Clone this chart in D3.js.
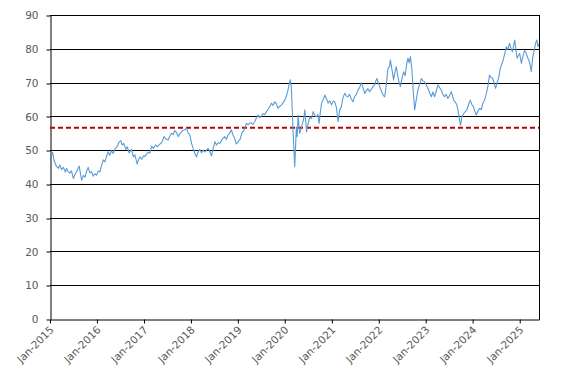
<!DOCTYPE html>
<html><head><meta charset="utf-8">
<script src="https://cdnjs.cloudflare.com/ajax/libs/d3/7.8.5/d3.min.js"></script>
<style>body{margin:0;background:#fff}svg{display:block}text{font-family:"DejaVu Sans",Verdana,sans-serif;fill:#595959}</style>
</head><body><svg id="c" width="567" height="382"></svg>
<script>
const dates = ["2015-01-02","2015-01-14","2015-01-22","2015-02-01","2015-02-16","2015-03-06","2015-03-19","2015-03-31","2015-04-14","2015-05-01","2015-05-09","2015-05-23","2015-06-05","2015-06-17","2015-07-01","2015-07-14","2015-07-29","2015-08-16","2015-08-26","2015-09-04","2015-09-18","2015-09-30","2015-10-13","2015-10-25","2015-11-07","2015-11-20","2015-12-03","2015-12-16","2015-12-29",
"2016-01-11","2016-01-24","2016-02-06","2016-02-19","2016-03-03","2016-03-16","2016-03-28","2016-04-10","2016-04-23","2016-05-06","2016-05-19","2016-06-06","2016-06-19","2016-07-04","2016-07-16","2016-07-28","2016-08-12","2016-08-24","2016-09-07","2016-09-26","2016-10-10","2016-10-22","2016-11-09","2016-11-20","2016-11-30","2016-12-15","2016-12-29",
"2017-01-08","2017-01-21","2017-02-04","2017-02-16","2017-03-01","2017-03-15","2017-03-31","2017-04-15","2017-05-05","2017-05-20","2017-06-05","2017-06-20","2017-07-08","2017-07-21","2017-08-03","2017-08-16","2017-08-29","2017-09-11","2017-09-24","2017-10-07","2017-10-20","2017-11-01","2017-11-14","2017-11-28","2017-12-10","2017-12-23",
"2018-01-06","2018-01-18","2018-01-31","2018-02-14","2018-02-26","2018-03-11","2018-03-24","2018-04-06","2018-04-19","2018-05-02","2018-05-15","2018-05-28","2018-06-10","2018-06-22","2018-07-06","2018-07-19","2018-07-31","2018-08-13","2018-08-26","2018-09-08","2018-09-21","2018-10-04","2018-10-17","2018-10-30","2018-11-12","2018-11-24","2018-12-07","2018-12-20",
"2019-01-03","2019-01-16","2019-01-28","2019-02-06","2019-02-20","2019-03-08","2019-03-22","2019-04-03","2019-04-16","2019-04-28","2019-05-12","2019-05-25","2019-06-07","2019-06-20","2019-07-03","2019-07-15","2019-07-28","2019-08-11","2019-08-23","2019-09-05","2019-09-18","2019-10-01","2019-10-14","2019-10-27","2019-11-09","2019-11-23","2019-12-06","2019-12-18",
"2020-01-01","2020-01-14","2020-01-26","2020-02-05","2020-02-13","2020-02-20","2020-02-28","2020-03-05","2020-03-10","2020-03-18","2020-03-24","2020-03-31","2020-04-07","2020-04-13","2020-04-20","2020-04-26","2020-05-08","2020-05-18","2020-05-28","2020-06-05","2020-06-18","2020-07-01","2020-07-14","2020-07-27","2020-08-09","2020-08-22","2020-09-04","2020-09-14","2020-09-24","2020-10-03","2020-10-13","2020-10-25","2020-11-07","2020-11-20","2020-12-03","2020-12-16","2020-12-29",
"2021-01-11","2021-01-24","2021-02-06","2021-02-18","2021-03-03","2021-03-16","2021-03-28","2021-04-11","2021-04-24","2021-05-06","2021-05-19","2021-06-01","2021-06-14","2021-06-27","2021-07-11","2021-07-23","2021-08-05","2021-08-18","2021-08-31","2021-09-13","2021-09-26","2021-10-08","2021-10-22","2021-11-04","2021-11-17","2021-11-30","2021-12-09","2021-12-18","2021-12-29",
"2022-01-08","2022-01-21","2022-02-03","2022-02-16","2022-03-01","2022-03-13","2022-03-26","2022-04-01","2022-04-13","2022-04-26","2022-05-06","2022-05-17","2022-05-30","2022-06-08","2022-06-18","2022-06-30","2022-07-13","2022-07-25","2022-08-06","2022-08-16","2022-08-25","2022-09-04","2022-09-16","2022-09-25","2022-10-07","2022-10-20","2022-11-01","2022-11-15","2022-11-28","2022-12-10","2022-12-23",
"2023-01-06","2023-01-18","2023-01-31","2023-02-14","2023-02-26","2023-03-11","2023-03-24","2023-04-06","2023-04-19","2023-05-02","2023-05-14","2023-05-27","2023-06-09","2023-06-22","2023-07-06","2023-07-19","2023-07-29","2023-08-06","2023-08-19","2023-08-31","2023-09-11","2023-09-21","2023-09-29","2023-10-08","2023-10-17","2023-10-30","2023-11-17","2023-11-30","2023-12-13","2023-12-26",
"2024-01-08","2024-01-18","2024-01-29","2024-02-11","2024-02-24","2024-03-08","2024-03-20","2024-04-02","2024-04-15","2024-04-28","2024-05-11","2024-05-24","2024-06-06","2024-06-17","2024-06-27","2024-07-10","2024-07-23","2024-08-03","2024-08-15","2024-08-29","2024-09-08","2024-09-19","2024-10-01","2024-10-14","2024-10-26","2024-11-05","2024-11-15","2024-11-23","2024-12-02","2024-12-11","2024-12-22",
"2025-01-01","2025-01-14","2025-01-26","2025-02-08","2025-02-22","2025-03-06","2025-03-19","2025-04-01","2025-04-07","2025-04-13","2025-04-24","2025-05-04","2025-05-14","2025-05-23","2025-05-30"];
const values = [49.5,48.5,49.3,47,45.5,44.6,45.6,44.2,44.9,43.5,44.6,43.6,43.2,43.9,41.6,42.8,43.8,45.3,43,41.1,42.5,42,43.8,44.9,43.3,43.6,42.3,43,42.6,
43.8,43.6,45.5,47.1,46.5,48.2,49.5,48.5,49.8,49.0,50.3,51.0,52.2,52.8,51.5,52,50.2,51,49.2,50.2,48,48.6,45.9,47.2,48.0,47.3,48.3,
48.1,48.8,49.4,49.1,51.2,50.5,51.5,51,51.8,52.3,54.0,53.3,53,54.2,55,54.6,55.8,55.2,54,54.8,55.4,55.8,56,56.6,55,54.6,
52,50.5,49,48.0,49.5,50.2,49.2,50,49.5,50,50.5,49.5,48.3,50.3,52.5,51.5,52.2,52,52.8,53.5,54,53.2,54.5,55,56,54.5,53.5,51.8,
52.5,53,54.5,55.4,56,57.9,57.5,58,58.1,57.6,58.4,59.5,60.4,59.6,60.1,60.8,60.5,61.4,62,62.8,63.9,63.2,64.3,63.8,62.4,63,63.4,64,
64.8,66,67.8,69.5,70.8,69,62,56,52,45.1,50,56.9,54,60.4,57.5,55,56.5,57.9,59.5,61.9,55.4,58,59.9,59.3,61.4,60.2,59.9,60.5,57.9,61,63.9,64.8,66.3,65.2,63.9,64.6,63.4,
64.5,64.3,62.5,58.4,61.9,62.8,65.5,66.8,66,65.8,66.5,65.2,64.3,65.8,66.5,67.8,68.5,70,68.5,66.8,67.6,68.2,67.3,68,68.8,69.3,70.5,71.2,69.8,
68.8,67.5,66.3,65.8,69.5,74.2,74.7,76.7,74,70.8,73,74.7,71.7,70,68.8,71,73.2,72,75.5,77.2,75.8,77.7,73.7,68,61.9,65,67.8,69.5,71.2,70.5,70.2,
69.2,68.3,67,65.8,67.2,65.8,67.5,69.3,68.5,67.8,66.5,65.8,66.5,65.3,66.2,67.3,66,64.8,64.2,63.4,61.5,58.9,57.4,59.5,60.4,61.2,61.9,63.5,64.8,63.5,
62.8,61.5,60.4,61.5,62.4,62,63.8,64.8,66.5,68.8,72.2,71.5,71.2,69.5,68.3,70,71.7,74.2,75.5,77.2,78.8,80.6,79.8,81.6,80,79.1,81,82.6,80,77.2,78,
78.6,75.7,77.8,79.6,78.5,77.2,76,73.2,75.5,77.7,79.5,81.6,82.6,80.6,81.5];
const yTicks = [0,10,20,30,40,50,60,70,80,90];
const xTickYears = [2015,2016,2017,2018,2019,2020,2021,2022,2023,2024,2025];
const refLevel = [56.6];

const parse = d3.timeParse("%Y-%m-%d");
const data = dates.map((d,i)=>({d:parse(d), v:values[i]}));
const svg = d3.select("#c");
const L=50, R=539, T=15, B=319;
const x = d3.scaleTime().domain([new Date(2015,0,1), new Date(2025,4,31)]).range([L,R]);
const y = d3.scaleLinear().domain([0,90]).range([B,T]);

// gridlines
svg.append("g").selectAll("line").data(yTicks.filter(t=>t>0)).join("line")
  .attr("x1",L).attr("x2",R).attr("y1",d=>Math.round(y(d))+0.5).attr("y2",d=>Math.round(y(d))+0.5)
  .attr("stroke","#000").attr("stroke-width",1);
// right border
svg.append("line").attr("x1",R+0.5).attr("x2",R+0.5).attr("y1",Math.round(y(90))).attr("y2",B+1).attr("stroke","#000");

// y axis
const ya = svg.append("g").attr("transform",`translate(${L+0.5},0)`)
  .call(d3.axisLeft(y).tickValues(yTicks).tickSize(4).tickPadding(8).tickSizeOuter(0));
ya.select(".domain").attr("stroke","#000");
ya.selectAll(".tick line").attr("stroke","#000").attr("transform",d=>`translate(0,${Math.round(y(d))+0.5-y(d)})`);
ya.selectAll("text").style("font-size","10.5px").attr("fill","#595959").attr("dy","0.35em");

// x axis
const xa = svg.append("g").attr("transform",`translate(0,${B+0.5})`)
  .call(d3.axisBottom(x).tickValues(xTickYears.map(yy=>new Date(yy,0,1))).tickSize(4).tickSizeOuter(0).tickFormat(d3.timeFormat("%b-%Y")));
xa.select(".domain").attr("stroke","#000");
xa.selectAll(".tick line").attr("stroke","#000");
xa.selectAll("text").style("font-size","10.5px").attr("fill","#595959")
  .attr("text-anchor","end").attr("dy","0").attr("y",0)
  .attr("transform","translate(4,11) rotate(-45)");

// reference line
svg.append("g").selectAll("line").data(refLevel).join("line")
  .attr("x1",L).attr("x2",R).attr("y1",d=>y(d)).attr("y2",d=>y(d))
  .attr("stroke","#C00000").attr("stroke-width",2).attr("stroke-dasharray","5,3");

// series
svg.append("path").datum(data)
  .attr("d", d3.line().x(p=>x(p.d)).y(p=>y(p.v)))
  .attr("fill","none").attr("stroke","#5B9BD5").attr("stroke-width",1.1).attr("stroke-linejoin","round");
</script></body></html>
